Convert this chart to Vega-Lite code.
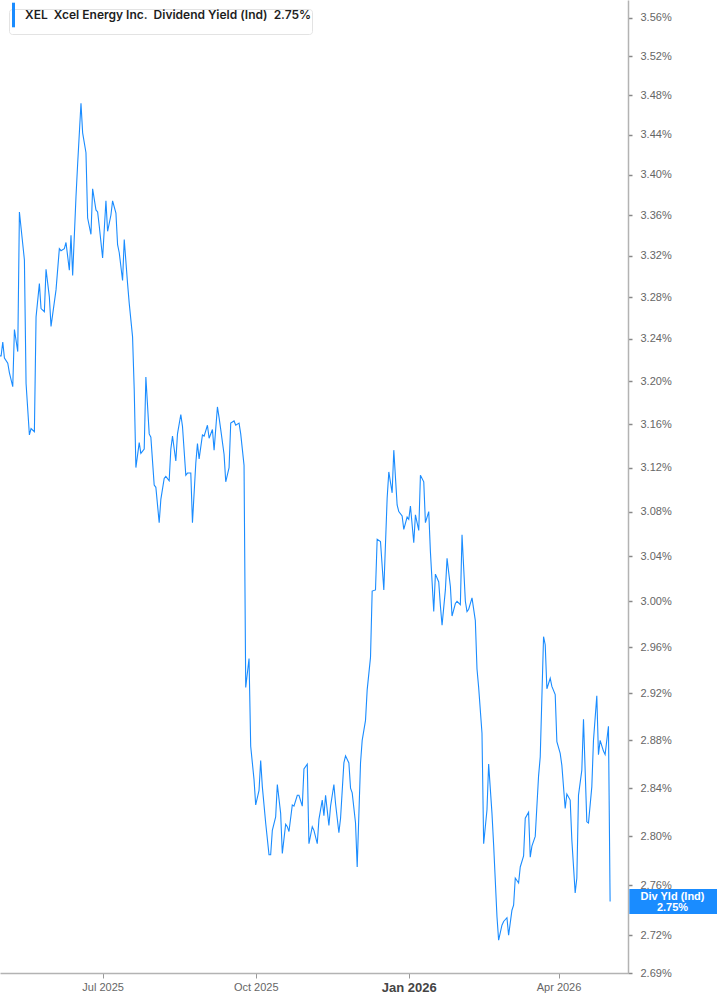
{
"$schema": "https://vega.github.io/schema/vega-lite/v6.json",
"width": 628, "height": 973,
"autosize": {"type": "none"},
"padding": {"left": 0, "top": 0, "right": 89, "bottom": 32},
"background": "white",
"config": {"view": {"stroke": null}, "font": "Liberation Sans"},
"data": {"values": [
{"date":"2025-04-30","yield":3.224},{"date":"2025-05-01","yield":3.224},{"date":"2025-05-02","yield":3.237},{"date":"2025-05-03","yield":3.222},{"date":"2025-05-05","yield":3.217},{"date":"2025-05-06","yield":3.208},{"date":"2025-05-08","yield":3.195},{"date":"2025-05-09","yield":3.249},{"date":"2025-05-11","yield":3.228},{"date":"2025-05-12","yield":3.363},{"date":"2025-05-15","yield":3.316},{"date":"2025-05-16","yield":3.198},{"date":"2025-05-18","yield":3.150},{"date":"2025-05-19","yield":3.156},{"date":"2025-05-21","yield":3.153},{"date":"2025-05-22","yield":3.261},{"date":"2025-05-24","yield":3.293},{"date":"2025-05-25","yield":3.269},{"date":"2025-05-27","yield":3.266},{"date":"2025-05-28","yield":3.307},{"date":"2025-05-30","yield":3.280},{"date":"2025-05-31","yield":3.252},{"date":"2025-06-03","yield":3.287},{"date":"2025-06-05","yield":3.327},{"date":"2025-06-06","yield":3.325},{"date":"2025-06-08","yield":3.327},{"date":"2025-06-09","yield":3.333},{"date":"2025-06-11","yield":3.306},{"date":"2025-06-12","yield":3.340},{"date":"2025-06-13","yield":3.301},{"date":"2025-06-15","yield":3.378},{"date":"2025-06-16","yield":3.411},{"date":"2025-06-18","yield":3.472},{"date":"2025-06-19","yield":3.442},{"date":"2025-06-21","yield":3.422},{"date":"2025-06-22","yield":3.357},{"date":"2025-06-24","yield":3.341},{"date":"2025-06-25","yield":3.386},{"date":"2025-06-27","yield":3.365},{"date":"2025-06-28","yield":3.363},{"date":"2025-06-29","yield":3.349},{"date":"2025-07-01","yield":3.318},{"date":"2025-07-03","yield":3.374},{"date":"2025-07-04","yield":3.344},{"date":"2025-07-06","yield":3.360},{"date":"2025-07-07","yield":3.374},{"date":"2025-07-09","yield":3.362},{"date":"2025-07-10","yield":3.331},{"date":"2025-07-11","yield":3.323},{"date":"2025-07-13","yield":3.296},{"date":"2025-07-14","yield":3.336},{"date":"2025-07-16","yield":3.293},{"date":"2025-07-17","yield":3.274},{"date":"2025-07-19","yield":3.242},{"date":"2025-07-20","yield":3.192},{"date":"2025-07-21","yield":3.120},{"date":"2025-07-23","yield":3.143},{"date":"2025-07-24","yield":3.133},{"date":"2025-07-26","yield":3.137},{"date":"2025-07-27","yield":3.204},{"date":"2025-07-29","yield":3.151},{"date":"2025-07-30","yield":3.148},{"date":"2025-08-01","yield":3.104},{"date":"2025-08-02","yield":3.102},{"date":"2025-08-04","yield":3.070},{"date":"2025-08-05","yield":3.091},{"date":"2025-08-07","yield":3.110},{"date":"2025-08-08","yield":3.112},{"date":"2025-08-10","yield":3.108},{"date":"2025-08-11","yield":3.137},{"date":"2025-08-12","yield":3.149},{"date":"2025-08-14","yield":3.126},{"date":"2025-08-15","yield":3.151},{"date":"2025-08-17","yield":3.169},{"date":"2025-08-18","yield":3.158},{"date":"2025-08-20","yield":3.113},{"date":"2025-08-21","yield":3.115},{"date":"2025-08-23","yield":3.115},{"date":"2025-08-24","yield":3.070},{"date":"2025-08-26","yield":3.124},{"date":"2025-08-27","yield":3.142},{"date":"2025-08-28","yield":3.128},{"date":"2025-08-30","yield":3.150},{"date":"2025-08-31","yield":3.149},{"date":"2025-09-02","yield":3.159},{"date":"2025-09-03","yield":3.147},{"date":"2025-09-05","yield":3.155},{"date":"2025-09-06","yield":3.136},{"date":"2025-09-08","yield":3.176},{"date":"2025-09-09","yield":3.166},{"date":"2025-09-10","yield":3.155},{"date":"2025-09-12","yield":3.132},{"date":"2025-09-13","yield":3.107},{"date":"2025-09-15","yield":3.120},{"date":"2025-09-16","yield":3.161},{"date":"2025-09-18","yield":3.163},{"date":"2025-09-19","yield":3.159},{"date":"2025-09-21","yield":3.161},{"date":"2025-09-22","yield":3.151},{"date":"2025-09-24","yield":3.122},{"date":"2025-09-25","yield":2.925},{"date":"2025-09-27","yield":2.950},{"date":"2025-09-28","yield":2.875},{"date":"2025-09-30","yield":2.847},{"date":"2025-10-01","yield":2.826},{"date":"2025-10-03","yield":2.838},{"date":"2025-10-04","yield":2.863},{"date":"2025-10-05","yield":2.841},{"date":"2025-10-07","yield":2.811},{"date":"2025-10-09","yield":2.785},{"date":"2025-10-10","yield":2.785},{"date":"2025-10-11","yield":2.805},{"date":"2025-10-13","yield":2.816},{"date":"2025-10-14","yield":2.843},{"date":"2025-10-16","yield":2.819},{"date":"2025-10-17","yield":2.786},{"date":"2025-10-19","yield":2.810},{"date":"2025-10-20","yield":2.808},{"date":"2025-10-21","yield":2.804},{"date":"2025-10-23","yield":2.826},{"date":"2025-10-24","yield":2.825},{"date":"2025-10-26","yield":2.834},{"date":"2025-10-27","yield":2.834},{"date":"2025-10-29","yield":2.825},{"date":"2025-10-30","yield":2.856},{"date":"2025-11-01","yield":2.860},{"date":"2025-11-02","yield":2.794},{"date":"2025-11-04","yield":2.808},{"date":"2025-11-05","yield":2.805},{"date":"2025-11-07","yield":2.794},{"date":"2025-11-08","yield":2.814},{"date":"2025-11-10","yield":2.830},{"date":"2025-11-11","yield":2.817},{"date":"2025-11-12","yield":2.834},{"date":"2025-11-14","yield":2.809},{"date":"2025-11-15","yield":2.825},{"date":"2025-11-17","yield":2.843},{"date":"2025-11-18","yield":2.827},{"date":"2025-11-20","yield":2.803},{"date":"2025-11-21","yield":2.815},{"date":"2025-11-23","yield":2.861},{"date":"2025-11-24","yield":2.867},{"date":"2025-11-26","yield":2.861},{"date":"2025-11-27","yield":2.840},{"date":"2025-11-28","yield":2.836},{"date":"2025-11-30","yield":2.811},{"date":"2025-12-01","yield":2.775},{"date":"2025-12-03","yield":2.861},{"date":"2025-12-04","yield":2.880},{"date":"2025-12-06","yield":2.897},{"date":"2025-12-07","yield":2.923},{"date":"2025-12-09","yield":2.951},{"date":"2025-12-10","yield":3.009},{"date":"2025-12-12","yield":3.010},{"date":"2025-12-13","yield":3.055},{"date":"2025-12-15","yield":3.053},{"date":"2025-12-17","yield":3.010},{"date":"2025-12-19","yield":3.092},{"date":"2025-12-20","yield":3.116},{"date":"2025-12-22","yield":3.097},{"date":"2025-12-23","yield":3.136},{"date":"2025-12-25","yield":3.086},{"date":"2025-12-26","yield":3.080},{"date":"2025-12-28","yield":3.076},{"date":"2025-12-29","yield":3.064},{"date":"2025-12-31","yield":3.075},{"date":"2026-01-01","yield":3.073},{"date":"2026-01-02","yield":3.085},{"date":"2026-01-04","yield":3.052},{"date":"2026-01-05","yield":3.077},{"date":"2026-01-07","yield":3.063},{"date":"2026-01-08","yield":3.113},{"date":"2026-01-10","yield":3.107},{"date":"2026-01-11","yield":3.070},{"date":"2026-01-13","yield":3.080},{"date":"2026-01-14","yield":3.044},{"date":"2026-01-16","yield":2.991},{"date":"2026-01-17","yield":3.024},{"date":"2026-01-19","yield":3.017},{"date":"2026-01-20","yield":2.996},{"date":"2026-01-21","yield":2.979},{"date":"2026-01-23","yield":3.010},{"date":"2026-01-24","yield":3.038},{"date":"2026-01-26","yield":3.013},{"date":"2026-01-27","yield":2.987},{"date":"2026-01-29","yield":2.998},{"date":"2026-01-30","yield":3.000},{"date":"2026-02-01","yield":2.997},{"date":"2026-02-02","yield":3.059},{"date":"2026-02-04","yield":3.000},{"date":"2026-02-05","yield":2.991},{"date":"2026-02-06","yield":2.993},{"date":"2026-02-08","yield":3.003},{"date":"2026-02-10","yield":2.983},{"date":"2026-02-11","yield":2.941},{"date":"2026-02-12","yield":2.925},{"date":"2026-02-14","yield":2.886},{"date":"2026-02-15","yield":2.794},{"date":"2026-02-17","yield":2.822},{"date":"2026-02-18","yield":2.860},{"date":"2026-02-20","yield":2.819},{"date":"2026-02-21","yield":2.793},{"date":"2026-02-23","yield":2.735},{"date":"2026-02-24","yield":2.716},{"date":"2026-02-26","yield":2.728},{"date":"2026-02-27","yield":2.731},{"date":"2026-03-01","yield":2.734},{"date":"2026-03-02","yield":2.720},{"date":"2026-03-04","yield":2.740},{"date":"2026-03-05","yield":2.744},{"date":"2026-03-06","yield":2.766},{"date":"2026-03-08","yield":2.762},{"date":"2026-03-09","yield":2.775},{"date":"2026-03-11","yield":2.784},{"date":"2026-03-12","yield":2.815},{"date":"2026-03-14","yield":2.820},{"date":"2026-03-15","yield":2.783},{"date":"2026-03-16","yield":2.792},{"date":"2026-03-18","yield":2.800},{"date":"2026-03-20","yield":2.850},{"date":"2026-03-21","yield":2.866},{"date":"2026-03-23","yield":2.969},{"date":"2026-03-24","yield":2.962},{"date":"2026-03-25","yield":2.924},{"date":"2026-03-27","yield":2.933},{"date":"2026-03-28","yield":2.926},{"date":"2026-03-30","yield":2.919},{"date":"2026-03-31","yield":2.879},{"date":"2026-04-02","yield":2.869},{"date":"2026-04-03","yield":2.859},{"date":"2026-04-05","yield":2.823},{"date":"2026-04-06","yield":2.835},{"date":"2026-04-08","yield":2.830},{"date":"2026-04-09","yield":2.797},{"date":"2026-04-11","yield":2.754},{"date":"2026-04-12","yield":2.766},{"date":"2026-04-13","yield":2.834},{"date":"2026-04-15","yield":2.855},{"date":"2026-04-16","yield":2.898},{"date":"2026-04-18","yield":2.812},{"date":"2026-04-19","yield":2.811},{"date":"2026-04-21","yield":2.841},{"date":"2026-04-22","yield":2.880},{"date":"2026-04-24","yield":2.918},{"date":"2026-04-25","yield":2.868},{"date":"2026-04-26","yield":2.880},{"date":"2026-04-28","yield":2.871},{"date":"2026-04-29","yield":2.868},{"date":"2026-05-01","yield":2.892},{"date":"2026-05-02","yield":2.747}
]},
"layer": [
{
"mark": {"type": "line", "strokeWidth": 1.1},
"encoding": {
"x": {"field": "date", "type": "temporal",
"scale": {"type": "utc", "domain": [{"year": 2025, "month": 4, "date": 30, "hours": 8, "utc": true}, {"year": 2026, "month": 5, "date": 12, "hours": 18, "utc": true}]},
"axis": {"title": null, "grid": false, "zindex": 0,
"values": [{"year": 2025, "month": 7, "date": 1, "utc": true}, {"year": 2025, "month": 10, "date": 1, "utc": true}, {"year": 2026, "month": 1, "date": 1, "utc": true}, {"year": 2026, "month": 4, "date": 1, "utc": true}],
"labelExpr": "utcFormat(datum.value, '%b %Y')",
"domainColor": "#b3b3b3", "domainWidth": 1.5, "tickColor": "#999999", "tickSize": 5, "tickWidth": 1,
"labelPadding": 3, "labelFont": "Liberation Sans", "labelFlush": false, "labelOverlap": false,
"labelFontSize": {"condition": {"test": "utcmonth(datum.value) === 0", "value": 13}, "value": 11},
"labelFontWeight": {"condition": {"test": "utcmonth(datum.value) === 0", "value": "bold"}, "value": "normal"},
"labelColor": {"condition": {"test": "utcmonth(datum.value) === 0", "value": "#444444"}, "value": "#666666"}}},
"y": {"field": "yield", "type": "quantitative",
"scale": {"type": "log", "domain": [2.69, 3.5788], "nice": false, "zero": false},
"axis": {"orient": "right", "title": null, "grid": false, "zindex": 0,
"values": [2.69, 2.72, 2.76, 2.80, 2.84, 2.88, 2.92, 2.96, 3.00, 3.04, 3.08, 3.12, 3.16, 3.20, 3.24, 3.28, 3.32, 3.36, 3.40, 3.44, 3.48, 3.52, 3.56],
"labelExpr": "format(datum.value, '.2f') + '%'",
"domainColor": "#b3b3b3", "domainWidth": 1.5, "tickColor": "#888888", "tickSize": 4, "tickWidth": 1.5,
"labelPadding": 8, "labelColor": "#666666", "labelFontSize": 11, "labelFont": "Liberation Sans",
"labelOverlap": false, "labelFlush": false, "labelBound": false}},
"color": {"datum": "XEL", "scale": {"range": ["#1a8cff"]},
"legend": {"title": null, "orient": "top-left", "offset": 9, "padding": 0,
"fillColor": "white", "strokeColor": "#e3e3e3", "cornerRadius": 3,
"symbolType": "M-0.5,-4.1L-0.5,4.1", "symbolSize": 36, "symbolStrokeWidth": 3, "symbolFillColor": "transparent",
"labelOffset": 4, "labelLimit": 400, "labelFont": "Inter", "labelFontSize": 12, "labelFontWeight": 600, "labelColor": "#1e1e1e",
"labelExpr": "'XEL\u00a0\u00a0Xcel Energy Inc.\u00a0\u00a0Dividend Yield (Ind)\u00a0\u00a02.75%\u00a0\u00a0'"}}
}
},
{
"transform": [{"window": [{"op": "row_number", "as": "rn"}], "sort": [{"field": "date", "order": "descending"}]}, {"filter": "datum.rn == 1"}],
"mark": {"type": "tick", "orient": "horizontal", "size": 88, "thickness": 25, "color": "#1a8cff", "opacity": 1},
"encoding": {
"x": {"datum": {"year": 2026, "month": 6, "date": 9, "hours": 0, "utc": true}, "type": "temporal"},
"y": {"field": "yield", "type": "quantitative"}
}
},
{
"transform": [{"window": [{"op": "row_number", "as": "rn"}], "sort": [{"field": "date", "order": "descending"}]}, {"filter": "datum.rn == 1"}],
"mark": {"type": "text", "color": "white", "font": "Liberation Sans", "fontWeight": "bold", "fontSize": 11, "lineHeight": 11, "align": "center", "baseline": "middle", "dy": -4.5},
"encoding": {
"x": {"datum": {"year": 2026, "month": 6, "date": 8, "hours": 12, "utc": true}, "type": "temporal"},
"y": {"field": "yield", "type": "quantitative"},
"text": {"value": ["Div Yld (Ind)", "2.75%"]}
}
}
]
}
